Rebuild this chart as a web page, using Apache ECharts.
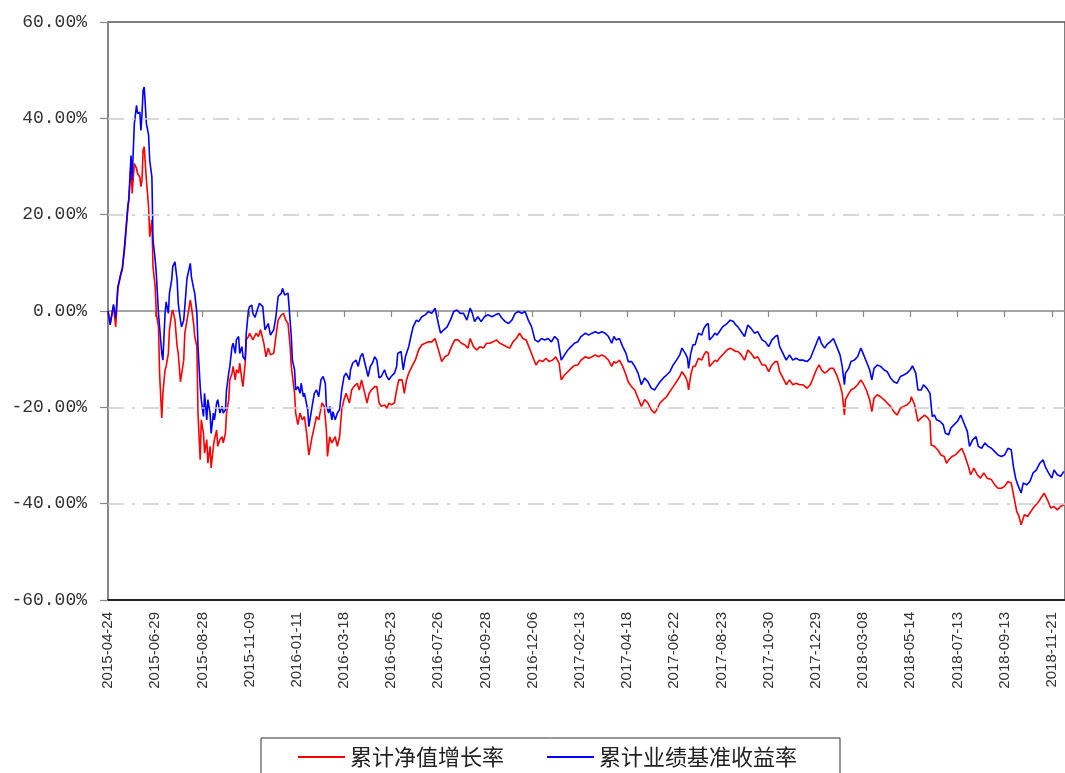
<!DOCTYPE html>
<html>
<head>
<meta charset="utf-8">
<script src="https://cdn.jsdelivr.net/npm/echarts@6.0.0/dist/echarts.min.js"></script>
<style>
html,body{margin:0;padding:0;background:#fff;}
#chart{width:1065px;height:773px;}
</style>
</head>
<body>
<div id="chart"></div>
<script>
// x value = trading-day index since 2015-04-24 (43 trading days between labelled dates)
var tickLabels = ['2015-04-24','2015-06-29','2015-08-28','2015-11-09','2016-01-11','2016-03-18','2016-05-23','2016-07-26','2016-09-28','2016-12-06','2017-02-13','2017-04-18','2017-06-22','2017-08-23','2017-10-30','2017-12-29','2018-03-08','2018-05-14','2018-07-13','2018-09-13','2018-11-21'];
var daysPerLabel = 43;
var lastDay = 872;
var seriesNames = ['累计净值增长率','累计业绩基准收益率'];
var gridValues = [-40, -20, 20, 40];

// 累计净值增长率 (%) : [trading-day index, value]
var navGrowth = [[0,0],[2,-2.5],[5,1.0],[7,-3.3],[9,4.7],[12,7.8],[13,8.5],[15,12.6],[18,20.9],[19,23.0],[21,30.6],[22,24.4],[24,30.6],[26,29.6],[27,28.5],[29,27.8],[30,25.8],[31,27.2],[32,33.4],[33,34.1],[35,27.2],[36,26.8],[37,21.6],[38,15.4],[40,18.9],[41,9.2],[43,5.0],[44,-0.5],[46,-3.3],[47,-12.9],[49,-22.2],[50,-17.1],[52,-12.2],[53,-11.5],[55,-8.8],[56,-3.9],[58,-0.5],[59,0.2],[61,-1.9],[63,-7.4],[64,-8.8],[66,-14.7],[67,-15.0],[69,-10.2],[70,-4.6],[72,-1.9],[73,-0.5],[75,2.3],[76,0.9],[78,-2.6],[79,-5.3],[81,-7.4],[82,-21.2],[84,-30.9],[85,-22.6],[87,-25.4],[88,-29.5],[90,-26.7],[91,-31.6],[93,-28.1],[94,-32.6],[96,-28.1],[97,-26.7],[99,-24.7],[100,-28.1],[102,-26.7],[104,-26.1],[105,-27.4],[107,-25.4],[108,-21.2],[110,-18.4],[111,-14.3],[113,-12.9],[114,-11.5],[116,-14.3],[117,-12.2],[119,-12.9],[120,-10.8],[122,-14.3],[123,-15.7],[125,-10.8],[126,-6.0],[128,-5.3],[129,-4.6],[132,-6.0],[135,-4.6],[137,-5.3],[139,-3.9],[142,-6.7],[144,-9.5],[146,-7.7],[148,-9.1],[151,-8.8],[153,-5.3],[155,-1.9],[158,-0.8],[160,-0.5],[162,-1.9],[164,-2.6],[166,-7.4],[167,-11.5],[170,-17.1],[171,-21.2],[173,-23.6],[175,-21.2],[177,-22.6],[179,-21.9],[181,-25.4],[183,-29.9],[186,-26.1],[188,-24.0],[190,-21.9],[192,-22.6],[195,-19.1],[197,-19.8],[199,-24.7],[200,-30.2],[202,-26.1],[204,-27.4],[207,-26.1],[209,-28.1],[211,-26.1],[213,-20.5],[215,-18.4],[217,-17.1],[220,-19.1],[222,-16.4],[224,-15.7],[227,-15.0],[229,-16.4],[231,-14.3],[234,-17.1],[236,-19.1],[238,-17.1],[240,-16.4],[243,-15.7],[245,-15.7],[247,-19.1],[249,-19.8],[252,-19.5],[254,-20.2],[256,-19.1],[258,-19.5],[261,-19.1],[263,-16.4],[265,-14.3],[268,-14.3],[270,-17.1],[272,-14.3],[274,-12.9],[277,-11.5],[280,-10.2],[283,-8.1],[286,-7.0],[289,-6.7],[292,-6.4],[295,-6.4],[298,-5.7],[299,-5.3],[302,-8.8],[304,-10.5],[307,-9.5],[310,-9.1],[313,-7.4],[316,-6.0],[319,-6.0],[322,-6.7],[325,-7.0],[328,-7.7],[330,-5.7],[333,-7.4],[336,-8.1],[339,-7.4],[342,-7.7],[345,-6.7],[348,-6.7],[351,-6.4],[354,-6.0],[357,-6.7],[360,-7.0],[363,-7.4],[366,-7.7],[369,-6.4],[372,-5.7],[375,-4.6],[378,-5.7],[381,-6.0],[384,-7.7],[387,-9.5],[390,-11.2],[393,-10.2],[396,-10.5],[399,-9.8],[402,-10.5],[405,-10.2],[408,-9.5],[411,-10.8],[413,-14.3],[416,-13.3],[419,-12.6],[422,-11.9],[425,-11.3],[428,-11.2],[431,-10.2],[435,-9.5],[438,-9.8],[441,-9.5],[444,-9.1],[447,-9.5],[450,-9.1],[453,-9.5],[456,-10.2],[459,-11.5],[461,-10.5],[463,-10.8],[466,-10.2],[469,-11.5],[472,-13.3],[474,-14.7],[477,-15.7],[480,-16.4],[483,-18.1],[486,-19.8],[489,-18.4],[492,-19.1],[495,-20.5],[498,-21.2],[500,-20.5],[503,-19.1],[506,-18.4],[509,-17.8],[512,-16.7],[515,-15.7],[518,-14.7],[521,-13.6],[523,-12.6],[526,-13.6],[528,-14.7],[529,-16.4],[531,-13.3],[533,-11.5],[535,-11.5],[538,-9.8],[541,-10.2],[543,-9.1],[545,-8.4],[547,-8.8],[548,-11.5],[551,-10.8],[553,-10.2],[555,-10.5],[557,-9.8],[560,-9.1],[564,-8.1],[567,-7.7],[570,-8.1],[572,-8.4],[574,-8.4],[577,-9.1],[580,-10.2],[583,-8.1],[586,-8.8],[589,-9.8],[592,-9.5],[596,-11.2],[599,-11.2],[602,-12.6],[605,-11.2],[608,-10.5],[610,-10.5],[612,-12.6],[615,-13.9],[618,-15.3],[621,-14.3],[624,-15.3],[627,-15.0],[630,-15.3],[633,-15.3],[637,-16.0],[640,-15.3],[643,-13.6],[646,-11.9],[648,-11.2],[650,-12.2],[653,-12.9],[655,-12.6],[658,-11.9],[661,-11.9],[664,-13.3],[667,-15.3],[669,-17.1],[671,-21.6],[672,-18.4],[675,-17.1],[677,-16.4],[680,-16.0],[683,-15.3],[686,-14.3],[688,-15.0],[691,-16.4],[694,-18.4],[696,-20.9],[698,-18.1],[701,-17.4],[704,-17.8],[707,-18.4],[710,-19.1],[713,-19.8],[716,-20.9],[719,-21.6],[722,-20.2],[725,-19.8],[728,-19.5],[731,-18.8],[732,-17.8],[735,-19.5],[738,-22.9],[741,-22.2],[744,-21.6],[747,-22.2],[749,-22.9],[750,-27.8],[753,-28.1],[756,-28.8],[759,-29.9],[762,-30.2],[764,-31.6],[766,-30.9],[769,-30.2],[772,-29.9],[775,-29.2],[778,-28.5],[781,-30.2],[784,-32.3],[786,-34.0],[789,-32.6],[792,-34.0],[795,-34.7],[798,-33.6],[801,-34.7],[805,-35.0],[808,-36.1],[811,-36.8],[814,-36.8],[817,-36.4],[820,-35.4],[823,-35.7],[826,-39.2],[828,-41.6],[830,-42.6],[832,-44.4],[835,-42.3],[838,-42.6],[841,-41.6],[844,-40.6],[847,-39.9],[851,-38.5],[853,-37.8],[856,-39.2],[859,-40.9],[862,-40.6],[865,-41.3],[868,-40.6],[871,-40.2]];

// 累计业绩基准收益率 (%) : [trading-day index, value]
var benchmarkReturn = [[0,0],[2,-2.9],[5,1.4],[7,-1.5],[9,5.0],[12,8.1],[13,8.8],[15,13.3],[18,21.6],[19,23.4],[21,32.3],[22,27.2],[24,38.9],[26,42.7],[27,41.0],[29,41.3],[30,37.5],[31,41.0],[32,45.8],[33,46.5],[35,38.9],[36,39.2],[37,36.5],[38,31.3],[40,27.8],[41,14.7],[43,10.6],[44,7.8],[46,-0.5],[47,-3.3],[49,-8.8],[50,-10.2],[52,-0.5],[53,1.9],[55,-0.5],[56,3.7],[58,6.4],[59,9.2],[61,10.2],[63,6.4],[64,1.6],[66,-1.9],[67,-3.3],[69,-1.9],[70,0.9],[72,6.8],[73,7.1],[75,9.9],[76,7.1],[78,4.7],[79,3.7],[81,-0.5],[82,-7.4],[84,-15.7],[85,-18.4],[87,-21.9],[88,-17.1],[90,-22.6],[91,-18.4],[93,-21.2],[94,-25.4],[96,-21.2],[97,-22.6],[99,-19.1],[100,-18.4],[102,-21.2],[104,-19.8],[105,-21.2],[107,-20.5],[108,-16.4],[110,-12.9],[111,-11.5],[113,-7.4],[114,-6.7],[116,-8.8],[117,-6.0],[119,-5.3],[120,-8.8],[122,-7.4],[123,-9.5],[125,-10.2],[126,-4.6],[128,0.2],[129,0.9],[131,1.2],[132,-0.5],[134,-1.3],[136,0.2],[138,1.6],[141,0.9],[143,-3.9],[146,-2.6],[148,-5.0],[151,-3.9],[153,-1.2],[155,3.0],[158,3.7],[159,4.7],[161,3.3],[164,3.7],[165,0.9],[167,-5.3],[168,-10.2],[170,-12.2],[171,-16.4],[173,-15.7],[175,-17.1],[176,-15.0],[178,-17.8],[179,-17.1],[182,-20.5],[183,-24.0],[186,-19.8],[188,-17.1],[190,-16.4],[192,-17.8],[194,-14.3],[196,-13.6],[198,-15.0],[199,-19.8],[201,-21.2],[202,-19.8],[204,-22.6],[205,-20.9],[207,-22.6],[209,-21.2],[211,-20.5],[213,-16.4],[215,-13.6],[217,-12.9],[220,-14.3],[221,-12.2],[223,-10.8],[226,-10.2],[228,-11.5],[230,-9.5],[232,-8.8],[234,-10.8],[237,-13.6],[239,-11.5],[241,-10.8],[243,-9.5],[245,-10.2],[247,-13.9],[249,-13.6],[252,-12.2],[254,-13.6],[256,-14.3],[258,-13.6],[261,-12.9],[263,-11.5],[264,-8.8],[267,-8.4],[269,-12.2],[271,-9.5],[274,-7.4],[276,-5.3],[278,-3.3],[281,-1.9],[283,-2.2],[286,-1.2],[289,-0.8],[292,-0.1],[295,-0.5],[298,0.6],[299,0.9],[301,-2.6],[303,-4.6],[306,-3.9],[309,-3.3],[312,-1.9],[315,-0.1],[318,0.2],[321,-0.5],[324,-0.5],[327,-1.9],[330,0.6],[332,-0.5],[334,-2.2],[337,-1.2],[340,-2.2],[343,-1.2],[346,-0.8],[350,-1.2],[353,-0.8],[356,-0.5],[359,-1.5],[362,-2.2],[365,-2.6],[368,-1.9],[371,-0.5],[374,-0.1],[375,0.3],[377,-0.5],[380,-0.1],[383,-1.9],[386,-3.3],[389,-6.0],[392,-6.4],[395,-5.7],[398,-6.0],[401,-5.7],[404,-6.4],[407,-5.3],[410,-6.0],[413,-10.2],[416,-9.1],[419,-8.1],[422,-7.4],[425,-6.7],[428,-6.4],[431,-5.3],[435,-4.6],[438,-5.0],[441,-4.6],[444,-4.3],[447,-4.6],[450,-4.3],[453,-4.6],[456,-5.3],[459,-6.7],[461,-5.3],[463,-6.0],[466,-5.7],[469,-7.4],[472,-8.8],[474,-10.5],[477,-10.5],[480,-11.5],[483,-12.9],[486,-15.3],[489,-13.9],[492,-14.7],[495,-16.0],[498,-16.4],[500,-15.7],[503,-14.7],[506,-13.9],[509,-13.3],[512,-12.6],[515,-11.2],[518,-10.2],[521,-9.1],[523,-7.7],[526,-8.8],[528,-9.8],[529,-11.9],[531,-8.8],[533,-7.0],[535,-7.0],[538,-4.6],[541,-5.0],[543,-3.6],[545,-2.9],[547,-2.6],[548,-6.0],[551,-5.3],[553,-4.6],[555,-5.0],[557,-4.3],[560,-3.3],[564,-2.6],[567,-1.9],[570,-2.2],[572,-2.9],[574,-3.3],[577,-4.3],[580,-5.3],[583,-2.9],[586,-3.6],[589,-4.6],[592,-4.3],[596,-6.0],[599,-6.4],[602,-7.4],[605,-6.0],[608,-5.3],[610,-5.0],[612,-7.4],[615,-8.8],[618,-10.2],[621,-9.1],[624,-10.2],[627,-9.8],[630,-10.2],[633,-10.2],[637,-10.5],[640,-9.8],[643,-8.1],[646,-6.4],[648,-5.3],[650,-6.7],[653,-7.7],[655,-7.0],[658,-6.4],[661,-5.7],[664,-7.4],[667,-9.1],[669,-11.5],[671,-15.3],[672,-12.9],[675,-11.9],[677,-10.5],[680,-10.2],[683,-9.5],[686,-7.7],[688,-8.8],[691,-10.5],[694,-12.2],[696,-14.3],[698,-11.9],[701,-11.2],[704,-11.5],[707,-12.2],[710,-12.6],[713,-13.9],[716,-14.7],[719,-15.0],[722,-13.6],[725,-13.3],[728,-12.9],[731,-12.2],[733,-11.4],[736,-12.9],[738,-16.4],[741,-16.4],[743,-15.3],[746,-16.0],[749,-17.1],[751,-21.9],[753,-21.6],[755,-22.6],[758,-22.9],[761,-23.6],[763,-25.4],[766,-25.7],[768,-24.3],[771,-23.6],[774,-22.9],[777,-21.6],[780,-23.3],[783,-25.0],[785,-28.1],[788,-26.7],[791,-26.1],[793,-28.1],[796,-28.5],[799,-27.4],[802,-28.1],[805,-28.5],[808,-29.2],[811,-29.9],[814,-30.2],[817,-29.9],[820,-28.5],[823,-28.8],[825,-32.3],[827,-34.7],[829,-36.1],[832,-37.8],[834,-35.7],[837,-36.1],[840,-35.4],[843,-33.6],[846,-33.0],[849,-31.6],[852,-30.9],[854,-32.3],[857,-33.6],[860,-34.7],[862,-33.0],[865,-34.0],[868,-34.3],[871,-33.3]];

var labelDays = tickLabels.map(function (_, i) { return i * daysPerLabel; });

var chart = echarts.init(document.getElementById('chart'), null, {renderer: 'canvas'});
chart.setOption({
  animation: false,
  backgroundColor: '#ffffff',
  grid: {left: 108, right: 0, top: 22, bottom: 173, show: true, borderColor: '#555', borderWidth: 1.5, backgroundColor: 'transparent'},
  legend: {
    data: seriesNames,
    left: 261, top: 738,
    orient: 'horizontal',
    icon: 'rect', itemWidth: 47, itemHeight: 2, itemGap: 43,
    padding: [8, 43, 20, 37],
    borderColor: '#333', borderWidth: 1,
    textStyle: {fontFamily: 'Noto Sans CJK SC', fontSize: 22, color: '#222'}
  },
  xAxis: [
    {
      type: 'value', min: 0, max: lastDay, interval: daysPerLabel, position: 'bottom',
      axisLine: {onZero: false, lineStyle: {color: '#222', width: 2}},
      axisTick: {show: false},
      splitLine: {show: false},
      axisLabel: {
        customValues: labelDays, rotate: 90, margin: 12,
        fontFamily: 'Liberation Sans', fontSize: 15, color: '#333',
        formatter: function (v) { var i = Math.round(v / daysPerLabel); return tickLabels[i] || ''; }
      }
    },
    {
      type: 'value', min: 0, max: lastDay, interval: daysPerLabel, position: 'top',
      axisLine: {onZero: true, lineStyle: {color: '#888', width: 1.5}},
      axisTick: {show: true, customValues: labelDays, inside: true, length: 6, lineStyle: {color: '#888', width: 1.2}},
      axisLabel: {show: false},
      splitLine: {show: false}
    }
  ],
  yAxis: {
    type: 'value', min: -60, max: 60, interval: 20,
    axisLine: {show: true, onZero: false, lineStyle: {color: '#888', width: 1.5}},
    axisTick: {show: true, length: 8, lineStyle: {color: '#888', width: 1.2}},
    axisLabel: {
      margin: 21, fontFamily: 'Liberation Mono', fontSize: 18, color: '#333',
      formatter: function (v) { return v.toFixed(2) + '%'; }
    },
    splitLine: {show: false}
  },
  series: [
    {name: 'grid', type: 'line', xAxisIndex: 0, data: [], z: 1, silent: true,
     markLine: {silent: true, symbol: ['none', 'none'], label: {show: false},
       lineStyle: {color: '#cccccc', width: 1.5, type: [16, 8, 3, 8]},
       data: gridValues.map(function (v) { return {yAxis: v}; })}},
    {name: seriesNames[0], type: 'line', xAxisIndex: 0, data: navGrowth, showSymbol: false, symbol: 'none', z: 3,
     lineStyle: {color: '#ff0000', width: 1.6}, itemStyle: {color: '#ff0000'}},
    {name: seriesNames[1], type: 'line', xAxisIndex: 0, data: benchmarkReturn, showSymbol: false, symbol: 'none', z: 4,
     lineStyle: {color: '#0000ff', width: 1.6}, itemStyle: {color: '#0000ff'}}
  ]
});
</script>
</body>
</html>
